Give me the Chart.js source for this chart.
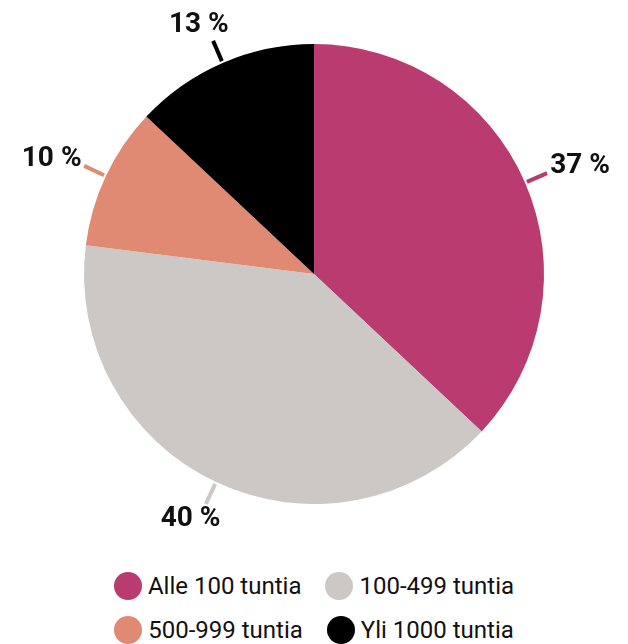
<!DOCTYPE html>
<html>
<head>
<meta charset="utf-8">
<script src="https://cdn.jsdelivr.net/npm/chart.js@4.4.1/dist/chart.umd.min.js"></script>
<style>
    body { margin: 0; background: #fff; }
    #wrap { position: relative; width: 628px; height: 644px; }
    #chartBox { position: absolute; left: 0; top: 0; width: 628px; height: 560px; }
    #legend { position: absolute; left: 0; top: 564px; width: 628px; font-family: Roboto, sans-serif; font-size: 24px; color: #111; }
    .row { display: flex; justify-content: center; height: 44px; align-items: center; }
    .item { display: flex; align-items: center; margin: 0 12px; }
    .dot { width: 28px; height: 28px; border-radius: 50%; margin-right: 6px; }
</style>
</head>
<body>
<div id="wrap">
    <div id="chartBox"><canvas id="pieChart"></canvas></div>
    <div id="legend"></div>
</div>
<script>
const categories = ['Alle 100 tuntia', '100-499 tuntia', '500-999 tuntia', 'Yli 1000 tuntia'];
const shares = [37, 40, 10, 13];
const sliceColors = ['#b93b6f', '#cbc8c5', '#e08a73', '#000000'];

// leader ticks + percentage labels outside the pie
const outsideLabels = {
    id: 'outsideLabels',
    afterDatasetsDraw(chart) {
        const ctx = chart.ctx;
        const meta = chart.getDatasetMeta(0);
        ctx.save();
        ctx.font = 'bold 28px Roboto, sans-serif';
        ctx.textAlign = 'center';
        ctx.textBaseline = 'middle';
        meta.data.forEach((arc, i) => {
            const p = arc.getProps(['x', 'y', 'startAngle', 'endAngle', 'outerRadius'], true);
            const mid = (p.startAngle + p.endAngle) / 2;
            const dx = Math.cos(mid);
            const dy = Math.sin(mid);
            const r0 = p.outerRadius + 2;
            const r1 = p.outerRadius + 24;
            ctx.strokeStyle = sliceColors[i];
            ctx.lineWidth = 4;
            ctx.beginPath();
            ctx.moveTo(p.x + dx * r0, p.y + dy * r0);
            ctx.lineTo(p.x + dx * r1, p.y + dy * r1);
            ctx.stroke();

            const text = shares[i] + ' %';
            const w = ctx.measureText(text).width;
            const h = 22;
            const lx = p.x + dx * (r1 + 6) + dx * w / 2;
            const ly = p.y + dy * (r1 + 6) + dy * h / 2;
            ctx.fillStyle = '#111';
            ctx.fillText(text, lx, ly);
        });
        ctx.restore();
    }
};

new Chart(document.getElementById('pieChart'), {
    type: 'pie',
    data: {
        labels: categories,
        datasets: [{
            data: shares,
            backgroundColor: sliceColors,
            borderWidth: 0
        }]
    },
    options: {
        responsive: true,
        maintainAspectRatio: false,
        animation: false,
        layout: { padding: { top: 44, bottom: 56 } },
        plugins: {
            legend: { display: false },
            tooltip: { enabled: false }
        }
    },
    plugins: [outsideLabels]
});

// html legend, two items per row
const legend = document.getElementById('legend');
for (let r = 0; r < 2; r++) {
    const row = document.createElement('div');
    row.className = 'row';
    for (let c = 0; c < 2; c++) {
        const i = r * 2 + c;
        const item = document.createElement('div');
        item.className = 'item';
        const dot = document.createElement('span');
        dot.className = 'dot';
        dot.style.background = sliceColors[i];
        const label = document.createElement('span');
        label.textContent = categories[i];
        item.appendChild(dot);
        item.appendChild(label);
        row.appendChild(item);
    }
    legend.appendChild(row);
}
</script>
</body>
</html>
